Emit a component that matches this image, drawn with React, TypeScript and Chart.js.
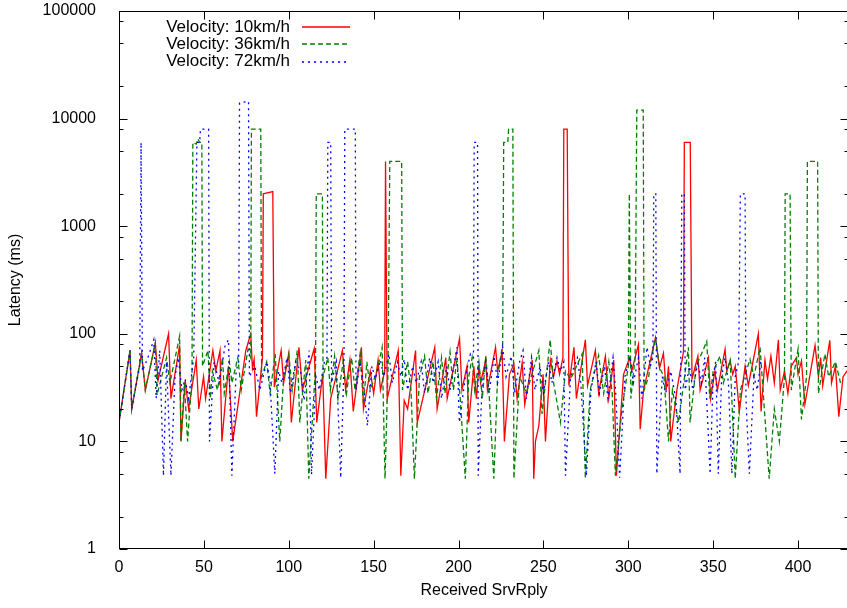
import React, { useEffect, useRef } from 'react';
import { Chart, registerables } from 'chart.js';
Chart.register(...registerables);

const seriesLabels = ['Velocity: 10km/h', 'Velocity: 36km/h', 'Velocity: 72km/h'];
const xTitle = 'Received SrvRply';
const yTitle = 'Latency (ms)';
const xTicks = [0, 50, 100, 150, 200, 250, 300, 350, 400];
const yTicks = [1, 10, 100, 1000, 10000, 100000];
const yMinorFactors = [2, 5, 8];

const v10X = [0,6.5,7.5,13.3,15.5,21.4,23,29.2,30.6,35.7,36.5,39,41,45.5,47,49.8,51,55.3,57,59.5,60.6,64.5,67,74.7,77.6,78.6,79.6,81,84.5,85,90.6,91.5,95.5,97,100,101.5,106,108,115,116.5,120,121.8,124.7,131.6,133.5,136,138,142.8,144,148,150,152.6,154,156.5,157,158,164.5,166,168,170,174.7,175.7,186,187.4,192.5,193.3,200.6,202,205,206,209,210.5,212,213,216,217,221.8,223,225.7,227,230,232.6,234.5,237.5,239,243.4,244.3,245.3,247.3,249.8,251.2,254.1,256,258,259.5,261.5,262,264,265,268,269.4,274.7,276,280.6,282.5,286.5,288.5,291.4,293,297.2,300.8,302,306,307,309,316,318.4,320.7,322.3,323.7,325,328.6,332.5,333,336.5,337.5,341,342.3,347.2,348.5,351,352.5,357,358,360,361.5,363,365.4,368.8,370.7,376.6,378.2,380.5,382,384,386,388.4,389.5,392,394,396,399,400,402,404,410,412,413.3,414.5,418.7,419.7,422,424,426.5,430];
const v10Y = [15,70,20,66,30,82,37,100,25,78,10,37,20,57,20,40,25,70,45,70,10,50,10,70,100,48,58,17,60,2000,2100,32,70,35,66,15,75,30,73,15,42,4.5,25,70,30,57,19,75,20,45,28,57,30,45,4000,25,70,4.8,24,20,70,15,75,20,60,25,90,30,50,15,50,25,50,35,57,30,75,45,68,10,42,52,25,54,22,57,4.5,10,14,42,10,57,40,56,42,60,8000,8000,33,75,25,88,33,70,28,62,25,57,4.8,42,60,45,80,13,30,92,48,66,30,50,10,30,68,6000,6000,38,62,30,60,25,45,30,72,45,56,42,50,19,50,33,100,19,57,38,62,35,88,30,45,28,50,60,42,56,22,78,40,60,33,87,35,50,17,40,48];

const v36X = [0,6.5,7.5,13.3,15.5,21.4,22.4,28,30,35.7,36.5,38.5,40.4,43,43.5,45.5,46.5,47.5,48.8,49.2,52.4,53.8,55,58,61,62,65,66.5,70,72,76,77.6,78,83.5,84,87,89,92,94.7,97,100,102,105,106.5,110,111.8,115.8,116.2,119.8,120.2,123,124.5,127,129,132,134,137,139,142,144,146,148,152,155,156.7,158.5,159.5,166.5,167,170,172,174,177,180,182,185,187,190,192,195,197,199,201,204,206,208,209.5,212,214,216,218,220.8,223,226,226.6,229,229.5,232,232.6,236,240,247.3,249.2,254,256,260,263,266,272.8,274.7,277.5,282.5,285.5,288.5,290.5,292.4,296.3,300,300.6,301.5,304,305,308.8,309.3,312,313,316,318.5,321,323.7,326,329.6,335.4,336.4,340,346.2,348,350,354,356,360,363,366,371.7,374,377.6,383,386,389,392,392.4,395.3,396,400,402,405,405.5,411.5,412,415.8,418,422,425];
const v36Y = [15,70,20,66,30,82,27,60,35,95,10,35,10,40,6000,5800,6500,6000,6000,50,70,25,45,30,60,28,55,35,60,30,72,60,8000,8000,40,55,28,65,10,40,65,30,70,15,57,4.5,50,2000,2000,40,60,30,62,25,55,28,60,30,65,22,55,30,45,75,4.5,50,4000,4000,30,55,30,4.5,40,62,28,55,25,60,28,68,30,60,25,4.5,40,60,30,55,25,62,28,4.5,40,80,6000,6000,8000,8000,4.5,40,28,70,18,88,35,15,45,38,65,4.5,30,63,28,55,28,4.8,20,50,2000,25,60,12000,12000,30,40,52,92,48,40,10,30,15,75,15,50,85,25,45,62,35,57,4.5,30,58,40,75,4.5,20,10,40,2000,2000,30,72,16,40,4000,4000,28,65,40,55,35];

const v72X = [0,6.5,7.5,12.2,13,13.8,17,20.5,21.9,24,26.2,28,30.6,33,35,37,39,41,44,45.9,47.5,48,52.8,53.3,56,59,62.5,64.5,66.5,69,70.5,71,76.3,76.8,80,83,87,89,91.8,94,96,99,101,104,107,109,112,113.4,116,118,121,122.5,123,124.7,125.2,128,130.6,132.5,133,139.2,139.6,142,144,146.3,149,151,154,156,159,161,164,166,168,170,173,175,178,180,183,185,188,190,193,195,199,200.5,204,207,208.8,209.2,211.2,211.6,214,216,218,221,223,226,228,231,233,236,238,240,243,245,248,250,253,255,258,260,262,263,266,270,272,275.3,278,281,283,286,288,291,292.5,294.9,298,301,303,306,308,311,313,314.5,315,316.2,316.8,320,322,325,328,330.5,331.5,333,333.5,336,338,341,343,345,348.2,350,351.5,353,355,357,359,361,363,365,366,368.8,369.3,371.3,374,376,378];
const v72Y = [15,70,20,50,6000,45,60,88,25,70,4.8,55,4.8,40,60,30,38,25,60,6000,6000,8000,8000,10,55,35,78,88,4.8,45,55,14000,14500,40,50,30,55,35,5,45,35,60,28,55,45,24,70,4.9,40,30,55,60,6000,6000,35,55,4.6,50,8000,8000,30,55,35,14,50,38,57,40,65,35,55,40,58,30,50,35,55,28,60,35,55,25,50,30,75,15,40,65,60,6000,6000,4.8,35,55,28,62,35,75,40,62,28,55,70,25,60,30,50,28,55,35,60,45,55,4.8,40,60,35,4.8,30,55,28,50,25,60,30,4.6,40,62,35,60,25,75,50,60,2000,2000,5,40,28,45,25,5,2000,2000,30,50,30,55,35,60,5,40,55,5,40,60,35,5,40,55,2000,2000,25,5,40,30,55];

const FONT = '"Liberation Sans", Arial, Helvetica, sans-serif';

function pts(xs: number[], ys: number[]) {
  return xs.map((x, i) => ({ x, y: ys[i] }));
}

const seriesStyles = [
  { color: '#ff0000', dash: [] as number[] },
  { color: '#008000', dash: [5, 3] },
  { color: '#0000ff', dash: [2, 4] },
];

export default function App() {
  const ref = useRef<HTMLCanvasElement>(null);
  useEffect(() => {
    if (!ref.current) return;
    const framePlugin = {
      id: 'gnuframe',
      afterDraw(chart: any) {
        const { ctx, chartArea, scales } = chart;
        const { left, right, top, bottom } = chartArea;
        const xs = scales.x;
        const ys = scales.y;
        ctx.save();
        ctx.strokeStyle = '#000';
        ctx.lineWidth = 1;
        ctx.setLineDash([]);
        ctx.beginPath();
        const L = Math.round(left) + 0.5;
        const R = Math.round(right) - 0.5;
        const T = Math.round(top) + 0.5;
        const B = Math.round(bottom) - 0.5;
        xTicks.forEach((v) => {
          const px = Math.round(xs.getPixelForValue(v)) + 0.5;
          ctx.moveTo(px, B); ctx.lineTo(px, B - 8);
          ctx.moveTo(px, T); ctx.lineTo(px, T + 8);
        });
        yTicks.forEach((v) => {
          const py = Math.round(ys.getPixelForValue(v)) + 0.5;
          ctx.moveTo(L, py); ctx.lineTo(L + 8, py);
          ctx.moveTo(R, py); ctx.lineTo(R - 8, py);
        });
        yTicks.slice(0, -1).forEach((d) => {
          yMinorFactors.forEach((m) => {
            const py = Math.round(ys.getPixelForValue(d * m)) + 0.5;
            ctx.moveTo(L, py); ctx.lineTo(L + 4, py);
            ctx.moveTo(R, py); ctx.lineTo(R - 4, py);
          });
        });
        ctx.stroke();
        ctx.strokeRect(L, T, R - L, B - T);

        ctx.fillStyle = '#000';
        ctx.font = `16px ${FONT}`;
        ctx.textAlign = 'center';
        ctx.textBaseline = 'middle';
        ctx.fillText(xTitle, (left + right) / 2, 591);
        ctx.save();
        ctx.translate(16, (top + bottom) / 2);
        ctx.rotate(-Math.PI / 2);
        ctx.fillText(yTitle, 0, 0);
        ctx.restore();

        // legend
        ctx.font = `17px ${FONT}`;
        const rows = [27, 44, 61.5];
        seriesLabels.forEach((lab, i) => {
          ctx.textAlign = 'right';
          ctx.fillStyle = '#000';
          ctx.fillText(lab, 290, rows[i]);
          ctx.beginPath();
          ctx.strokeStyle = seriesStyles[i].color;
          ctx.lineWidth = 1.5;
          ctx.setLineDash(seriesStyles[i].dash);
          const yy = Math.round(rows[i]);
          ctx.moveTo(302, yy);
          ctx.lineTo(350, yy);
          ctx.stroke();
        });
        ctx.restore();
      },
    };

    const datasets = [
      { xs: v10X, ys: v10Y },
      { xs: v36X, ys: v36Y },
      { xs: v72X, ys: v72Y },
    ].map((s, i) => ({
      label: seriesLabels[i],
      data: pts(s.xs, s.ys),
      borderColor: seriesStyles[i].color,
      backgroundColor: seriesStyles[i].color,
      borderDash: seriesStyles[i].dash,
      borderWidth: 1.3,
      pointRadius: 0,
      tension: 0,
      fill: false,
      order: 3 - i,
    }));

    const chart = new Chart(ref.current, {
      type: 'line',
      data: { datasets },
      plugins: [framePlugin],
      options: {
        responsive: false,
        animation: false,
        devicePixelRatio: 1,
        layout: { padding: { left: 0, right: 3, top: 11, bottom: 0 } },
        plugins: { legend: { display: false }, tooltip: { enabled: false } },
        scales: {
          x: {
            type: 'linear',
            min: 0,
            max: 430,
            grid: { display: false },
            border: { display: false },
            afterFit: (s: any) => { s.height = 59; s.paddingLeft = 0; s.paddingRight = 0; },
            afterBuildTicks: (s: any) => { s.ticks = xTicks.map((v) => ({ value: v })); },
            ticks: {
              autoSkip: false,
              maxRotation: 0,
              padding: 1,
              color: '#000',
              font: { family: FONT, size: 16 },
              callback: (v: any) => String(v),
            },
          },
          y: {
            type: 'logarithmic',
            min: 1,
            max: 100000,
            grid: { display: false },
            border: { display: false },
            afterFit: (s: any) => { s.width = 119; s.paddingTop = 0; s.paddingBottom = 0; },
            afterBuildTicks: (s: any) => { s.ticks = yTicks.map((v) => ({ value: v })); },
            ticks: {
              autoSkip: false,
              padding: 15,
              color: '#000',
              font: { family: FONT, size: 16 },
              callback: (v: any) => String(v),
            },
          },
        },
      },
    });
    return () => chart.destroy();
  }, []);

  return (
    <div style={{ position: 'fixed', left: 0, top: 0, width: 847, height: 608, overflow: 'hidden', background: '#fff' }}>
      <canvas ref={ref} width={852} height={608} style={{ display: 'block', width: 852, height: 608 }} />
    </div>
  );
}
